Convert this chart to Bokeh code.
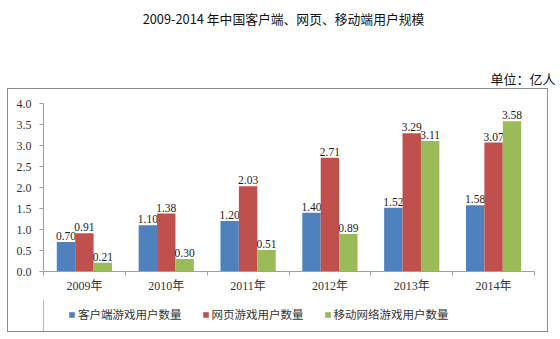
from bokeh.plotting import figure
from bokeh.layouts import column
from bokeh.models import (ColumnDataSource, Range1d, FixedTicker, Legend, LegendItem,
                          NumeralTickFormatter)
from bokeh.core.properties import value
from bokeh.embed import file_html
from bokeh.resources import INLINE

years = ["2009年", "2010年", "2011年", "2012年", "2013年", "2014年"]
client = [0.70, 1.10, 1.20, 1.40, 1.52, 1.58]
web = [0.91, 1.38, 2.03, 2.71, 3.29, 3.07]
mobile = [0.21, 0.30, 0.51, 0.89, 3.11, 3.58]
series_names = ["客户端游戏用户数量", "网页游戏用户数量", "移动网络游戏用户数量"]
colors = ["#4F81BD", "#C0504D", "#9BBB59"]
title_text = "2009-2014 年中国客户端、网页、移动端用户规模"
unit_text = "单位：亿人"

SERIF = "Liberation Serif, Noto Sans CJK SC"
CJK = "Noto Sans CJK SC"


def bare(fig):
    fig.outline_line_color = None
    fig.xgrid.visible = False
    fig.ygrid.visible = False
    return fig


# ---- header (title + unit) ----
head = bare(figure(width=560, height=88, output_backend="svg", toolbar_location=None,
                   x_range=Range1d(0, 560), y_range=Range1d(88, 0),
                   x_axis_type=None, y_axis_type=None, min_border=0))
hsrc = ColumnDataSource(dict(x=[283], y=[18], t=[title_text]))
head.text(x="x", y="y", text="t", source=hsrc, text_align="center", text_baseline="middle",
          text_font=value(CJK), text_font_size="12.8px", text_color="#111111")
usrc = ColumnDataSource(dict(x=[555], y=[78], t=[unit_text]))
head.text(x="x", y="y", text="t", source=usrc, text_align="right", text_baseline="middle",
          text_font=value(CJK), text_font_size="13px", text_color="#111111")

# ---- main chart ----
p = bare(figure(width=539, height=210, output_backend="svg", toolbar_location=None,
                x_range=Range1d(0, 6), y_range=Range1d(0, 4),
                min_border_left=35, min_border_right=13, min_border_top=14, min_border_bottom=28))

bw = 0.225
centers = [i + 0.5 for i in range(len(years))]
for k, vals in enumerate([client, web, mobile]):
    xs = [c + (k - 1) * bw for c in centers]
    src = ColumnDataSource(dict(x=xs, top=vals, lab=["%.2f" % v for v in vals]))
    p.vbar(x="x", top="top", width=bw, source=src, fill_color=colors[k], line_color=None)
    p.text(x="x", y="top", text="lab", source=src, text_align="center", text_baseline="bottom",
           y_offset=-2, text_font=value("Liberation Serif"), text_font_size="11.5px",
           text_color="#222222")

yax = p.yaxis[0]
yax.ticker = FixedTicker(ticks=[i * 0.5 for i in range(9)])
yax.formatter = NumeralTickFormatter(format="0.0")
yax.major_label_text_font = SERIF
yax.major_label_text_font_size = "12px"
yax.major_label_text_color = "#333333"
yax.axis_line_color = "#a0a0a0"
yax.major_tick_line_color = "#a0a0a0"
yax.major_tick_out = 4
yax.major_tick_in = 0
yax.minor_tick_line_color = None
yax.major_label_standoff = 8

xax = p.xaxis[0]
xax.ticker = FixedTicker(ticks=centers, minor_ticks=list(range(7)))
xax.major_label_overrides = {c: y for c, y in zip(centers, years)}
xax.major_tick_line_color = None
xax.minor_tick_line_color = "#a0a0a0"
xax.minor_tick_out = 4
xax.minor_tick_in = 0
xax.axis_line_color = "#a0a0a0"
xax.major_label_text_font = SERIF
xax.major_label_text_font_size = "12px"
xax.major_label_text_color = "#333333"
xax.major_label_standoff = 1

# ---- legend strip ----
lf = bare(figure(width=539, height=32, output_backend="svg", toolbar_location=None,
                 x_range=Range1d(0, 1), y_range=Range1d(0, 1),
                 x_axis_type=None, y_axis_type=None, min_border=0))
items = []
for name, c in zip(series_names, colors):
    # legend swatch renderer; its single bar lies outside the strip's visible range
    r = lf.vbar(x=[-5], top=[1], width=0.1, fill_color=c, line_color=None)
    items.append(LegendItem(label=name, renderers=[r]))
legend = Legend(items=items, orientation="horizontal", location=(25, 9),
                glyph_width=7, glyph_height=7, label_standoff=3, spacing=20,
                padding=0, margin=0, border_line_color=None, background_fill_alpha=0,
                label_text_font=CJK, label_text_font_size="11.5px", label_text_color="#333333")
lf.add_layout(legend)

box = column(p, lf, spacing=0, margin=(0, 0, 0, 7),
             styles={"border": "1.5px solid #8c8c8c"})
layout = column(head, box, spacing=0)
open("out.html", "w").write(file_html(layout, INLINE))
